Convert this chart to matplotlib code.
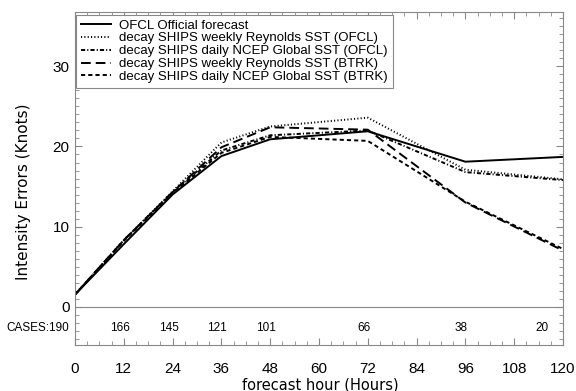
import matplotlib
matplotlib.use("Agg")
import matplotlib.pyplot as plt
from matplotlib.ticker import MultipleLocator

plt.rcParams['font.family'] = ['Liberation Sans', 'DejaVu Sans']
plt.rcParams['lines.scale_dashes'] = False

# forecast hours and intensity errors (kt)
hours = [0, 12, 24, 36, 48, 72, 96, 120]
ofcl = [1.5, 7.8, 14.0, 18.8, 20.9, 21.9, 18.1, 18.7]
dshp_weekly_ofcl = [1.5, 8.3, 14.4, 20.5, 22.5, 23.6, 17.1, 15.9]
dshp_daily_ofcl = [1.5, 8.3, 14.3, 19.5, 21.4, 22.0, 16.8, 15.8]
dshp_weekly_btrk = [1.5, 8.3, 14.3, 19.9, 22.4, 22.1, 13.0, 7.0]
dshp_daily_btrk = [1.5, 8.2, 14.2, 19.2, 21.2, 20.7, 13.1, 7.2]

cases = [190, 166, 145, 121, 101, 66, 38, 20]

labels = ['OFCL Official forecast',
          'decay SHIPS weekly Reynolds SST (OFCL)',
          'decay SHIPS daily NCEP Global SST (OFCL)',
          'decay SHIPS weekly Reynolds SST (BTRK)',
          'decay SHIPS daily NCEP Global SST (BTRK)']

fig = plt.figure(figsize=(5.76, 3.91), dpi=100)
ax = fig.add_axes([0.1302, 0.1176, 0.8472, 0.8517])

lw = 1.4
ax.plot(hours, ofcl, color='black', lw=lw, label=labels[0])
ax.plot(hours, dshp_weekly_ofcl, color='black', lw=lw, dashes=(0.8, 1.6), label=labels[1])
ax.plot(hours, dshp_daily_ofcl, color='black', lw=lw, dashes=(3, 1.5, 0.8, 1.5), label=labels[2])
ax.plot(hours, dshp_weekly_btrk, color='black', lw=lw, dashes=(7, 3.6), label=labels[3])
ax.plot(hours, dshp_daily_btrk, color='black', lw=lw, dashes=(3, 2.2), label=labels[4])

ax.axhline(0, color='#888888', lw=0.8)

# number of cases under each forecast time
ax.text(-1.5, -2.7, 'CASES:%d' % cases[0], ha='right', va='center', fontsize=8.5)
for h, c in zip(hours[1:-1], cases[1:-1]):
    ax.text(h - 1, -2.7, str(c), ha='center', va='center', fontsize=8.5)
ax.text(hours[-1] - 3.5, -2.7, str(cases[-1]), ha='right', va='center', fontsize=8.5)

ax.set_xlim(0, 120)
ax.set_ylim(-4.8, 36.8)
ax.xaxis.set_major_locator(MultipleLocator(12))
ax.xaxis.set_minor_locator(MultipleLocator(3))
ax.yaxis.set_major_locator(MultipleLocator(10))
ax.yaxis.set_minor_locator(MultipleLocator(1))
ax.set_yticks([0, 10, 20, 30])

for s in ax.spines.values():
    s.set_color('#888888')
    s.set_linewidth(0.8)
ax.tick_params(which='both', direction='in', top=True, right=True, color='#888888')
ax.tick_params(which='major', length=5, width=0.8, labelsize=11)
ax.tick_params(which='minor', length=3, width=0.6)
ax.tick_params(axis='x', which='major', pad=12)
ax.tick_params(axis='y', which='major', pad=4)

ax.set_xlabel('forecast hour (Hours)', fontsize=10.5, family='DejaVu Sans')
ax.set_ylabel('Intensity Errors (Knots)', fontsize=11, family='DejaVu Sans')
ax.xaxis.set_label_coords(0.502, -0.097)
ax.yaxis.set_label_coords(-0.09, 0.46)

leg = ax.legend(loc='upper left', bbox_to_anchor=(0.003, 0.992), borderaxespad=0,
                fontsize=9.5, handlelength=2.3, handletextpad=0.6,
                labelspacing=0.05, borderpad=0.35, fancybox=False, framealpha=1)
leg.get_frame().set_edgecolor('#888888')
leg.get_frame().set_linewidth(0.8)

fig.savefig('out.png', dpi=100)
